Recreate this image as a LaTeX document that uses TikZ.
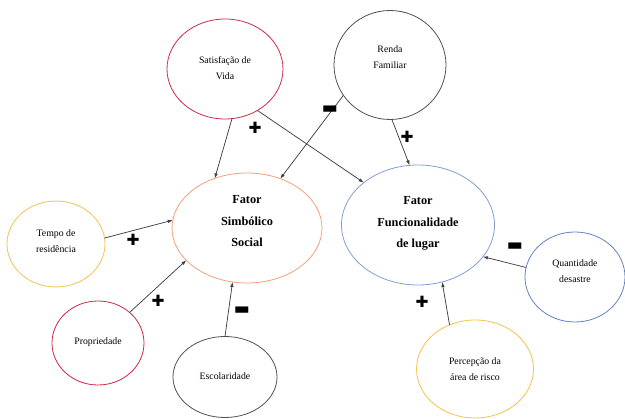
\documentclass[tikz,border=0pt]{standalone}
\usepackage{fontspec}
\setmainfont{Liberation Serif}
\newfontfamily\signfont{DejaVu Sans}
\usetikzlibrary{shapes.geometric,arrows.meta}
\definecolor{cred}{HTML}{D02A45}
\definecolor{cgray}{HTML}{505050}
\definecolor{corange}{HTML}{F2A07E}
\definecolor{cyellow}{HTML}{F2C34E}
\definecolor{cblue}{HTML}{7F9FD2}
\definecolor{cblue2}{HTML}{5F82C2}
\definecolor{cline}{HTML}{404040}
\tikzset{
  ell/.style={ellipse, draw, line width=0.8pt, inner sep=0pt, outer sep=0pt},
  txt/.style={align=center, inner sep=0pt, font=\fontsize{9.8}{16}\selectfont},
  bigtxt/.style={align=center, inner sep=0pt, font=\bfseries\fontsize{12.3}{21.5}\selectfont},
  conn/.style={draw=cline, line width=0.75pt, -{Latex[length=5pt,width=3.6pt]}},
  plussign/.style={font=\signfont\fontsize{15.5}{15.5}\selectfont, inner sep=0pt},
  minussign/.style={font=\signfont\fontsize{17}{17}\selectfont, inner sep=0pt}
}
\begin{document}
\begin{tikzpicture}[x=1pt,y=-1pt]
\useasboundingbox (0,0) rectangle (625,419);
\node[ell, draw=cred, minimum width=116pt, minimum height=100pt] (sat) at (225,69) {};
\node[ell, draw=cgray, minimum width=112pt, minimum height=109pt] (renda) at (390,65) {};
\node[ell, draw=corange, minimum width=150pt, minimum height=110pt] (simb) at (247,228) {};
\node[ell, draw=cblue, minimum width=153pt, minimum height=120pt] (func) at (418,225) {};
\node[ell, draw=cyellow, minimum width=98pt, minimum height=86pt] (tempo) at (56,244) {};
\node[ell, draw=cred, minimum width=92pt, minimum height=84pt] (prop) at (98,343) {};
\node[ell, draw=cgray, minimum width=104pt, minimum height=81pt] (esc) at (225,377) {};
\node[ell, draw=cblue2, minimum width=100pt, minimum height=90pt] (quant) at (575,277) {};
\node[ell, draw=cyellow, minimum width=117pt, minimum height=98pt] (perc) at (475,369) {};

\node[txt] (satt) at (225,68) {Satisfação de\\Vida};
\node[txt] (rendat) at (390,57.5) {Renda\\Familiar};
\node[bigtxt] (simbt) at (247,221.5) {Fator\\Simbólico\\Social};
\node[bigtxt] (funct) at (418,223.5) {Fator\\Funcionalidade\\de lugar};
\node[txt] (tempot) at (56,241) {Tempo de\\residência};
\node[txt] (propt) at (98,342) {Propriedade};
\node[txt] (esct) at (225,376) {Escolaridade};
\node[txt] (quantt) at (575,271) {Quantidade\\desastre};
\node[txt] (perct) at (475,369) {Percepção da\\área de risco};

\draw[conn] (sat.-82) -- (simb.123);
\draw[conn] (sat.-52) -- (func.142);
\draw[conn] (renda.-147) -- (simb.56);
\draw[conn] (renda.-88) -- (func.98);
\draw[conn] (tempo.7) -- (simb.174);
\draw[conn] (prop.44) -- (simb.-152);
\draw[conn] (esc.90) -- (simb.-105);
\draw[conn] (quant.169) -- (func.-26);
\draw[conn] (perc.120) -- (func.-67);

\node[plussign] (p1) at (255,128) {✚};
\node[minussign] (m1) at (330,110) {▬};
\node[plussign] (p2) at (407,137) {✚};
\node[plussign] (p3) at (133,240) {✚};
\node[plussign] (p4) at (158,301) {✚};
\node[minussign] (m2) at (242,311) {▬};
\node[minussign] (m3) at (515,247) {▬};
\node[plussign] (p5) at (422,302) {✚};
\end{tikzpicture}
\end{document}
